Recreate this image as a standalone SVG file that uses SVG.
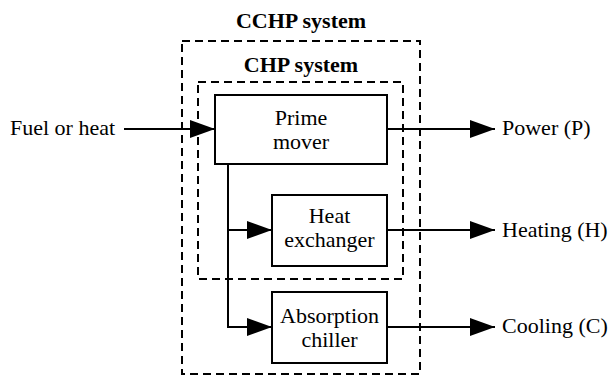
<svg xmlns="http://www.w3.org/2000/svg" width="612" height="376" viewBox="0 0 612 376">
<style>
text{font-family:'Liberation Serif','DejaVu Serif',serif;font-size:22px;fill:#000}
.b{font-weight:bold;text-anchor:middle}
.c{text-anchor:middle}
.box{fill:#fff;stroke:#000;stroke-width:2}
.dash{fill:none;stroke:#000;stroke-width:2;stroke-dasharray:8,5}
.ln{fill:none;stroke:#000;stroke-width:2}
</style>
<defs>
<marker id="ah" markerUnits="userSpaceOnUse" markerWidth="25" markerHeight="18" refX="25" refY="9" orient="auto">
<path d="M0,0 L25,9 L0,18 Z" fill="#000"/>
</marker>
</defs>
<g id="cchp">
<rect class="dash" x="182" y="41" width="238" height="333"/>
<text class="b" x="301" y="28">CCHP system</text>
</g>
<g id="chp">
<rect class="dash" x="198" y="82" width="205" height="197"/>
<text class="b" x="301" y="72">CHP system</text>
</g>
<g id="connectors">
<line class="ln" x1="124" y1="129" x2="215" y2="129" marker-end="url(#ah)"/>
<line class="ln" x1="387" y1="129" x2="495" y2="129" marker-end="url(#ah)"/>
<line class="ln" x1="387" y1="230" x2="495" y2="230" marker-end="url(#ah)"/>
<line class="ln" x1="387" y1="327" x2="495" y2="327" marker-end="url(#ah)"/>
<path class="ln" d="M228,164 V327 H272" marker-end="url(#ah)"/>
<line class="ln" x1="228" y1="230" x2="272" y2="230" marker-end="url(#ah)"/>
</g>
<g id="prime-mover">
<rect class="box" x="215" y="95" width="172" height="69"/>
<text class="c" x="301" y="125">Prime</text>
<text class="c" x="301" y="149">mover</text>
</g>
<g id="heat-exchanger">
<rect class="box" x="272" y="195" width="115" height="71"/>
<text class="c" x="329.5" y="223">Heat</text>
<text class="c" x="329.5" y="247">exchanger</text>
</g>
<g id="absorption-chiller">
<rect class="box" x="272" y="292" width="115" height="71"/>
<text class="c" x="329.5" y="323">Absorption</text>
<text class="c" x="329.5" y="347">chiller</text>
</g>
<g id="fuel"><text x="10" y="135">Fuel or heat</text></g>
<g id="power"><text x="502" y="135">Power (P)</text></g>
<g id="heating"><text x="502" y="237">Heating (H)</text></g>
<g id="cooling"><text x="502" y="333">Cooling (C)</text></g>
</svg>
